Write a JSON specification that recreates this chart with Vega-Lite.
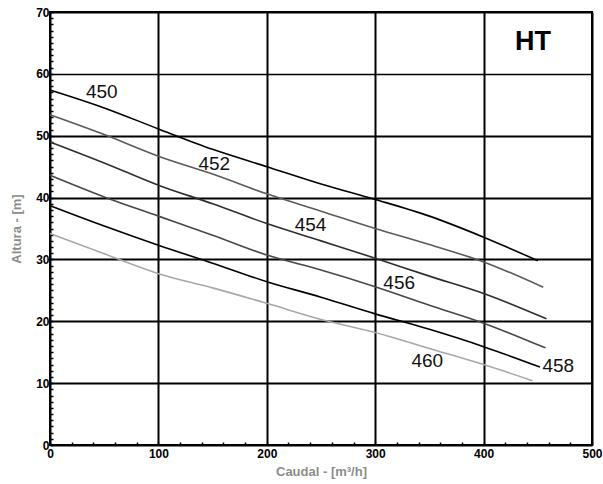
{
  "$schema": "https://vega.github.io/schema/vega-lite/v6.json",
  "width": 542,
  "height": 433,
  "autosize": {"type": "none"},
  "padding": {"left": 50, "top": 12, "right": 11, "bottom": 39},
  "background": "white",
  "config": {
    "view": {"stroke": "black", "strokeWidth": 2},
    "font": "Liberation Sans"
  },
  "datasets": {
    "curves": [
      {"curve": "450", "q": 0, "h": 57.4}, {"curve": "450", "q": 50, "h": 54.5}, {"curve": "450", "q": 100, "h": 51.1}, {"curve": "450", "q": 150, "h": 47.8}, {"curve": "450", "q": 200, "h": 45.0}, {"curve": "450", "q": 250, "h": 42.2}, {"curve": "450", "q": 300, "h": 39.7}, {"curve": "450", "q": 350, "h": 37.0}, {"curve": "450", "q": 400, "h": 33.6}, {"curve": "450", "q": 450, "h": 29.8},
      {"curve": "452", "q": 0, "h": 53.4}, {"curve": "452", "q": 50, "h": 50.2}, {"curve": "452", "q": 100, "h": 46.7}, {"curve": "452", "q": 150, "h": 43.8}, {"curve": "452", "q": 200, "h": 40.6}, {"curve": "452", "q": 250, "h": 37.8}, {"curve": "452", "q": 300, "h": 35.0}, {"curve": "452", "q": 350, "h": 32.4}, {"curve": "452", "q": 400, "h": 29.6}, {"curve": "452", "q": 455, "h": 25.5},
      {"curve": "454", "q": 0, "h": 49.0}, {"curve": "454", "q": 50, "h": 45.6}, {"curve": "454", "q": 100, "h": 42.0}, {"curve": "454", "q": 150, "h": 39.0}, {"curve": "454", "q": 200, "h": 35.8}, {"curve": "454", "q": 250, "h": 33.0}, {"curve": "454", "q": 300, "h": 30.2}, {"curve": "454", "q": 350, "h": 27.3}, {"curve": "454", "q": 400, "h": 24.5}, {"curve": "454", "q": 458, "h": 20.4},
      {"curve": "456", "q": 0, "h": 43.6}, {"curve": "456", "q": 50, "h": 40.1}, {"curve": "456", "q": 100, "h": 37.0}, {"curve": "456", "q": 150, "h": 33.9}, {"curve": "456", "q": 200, "h": 30.7}, {"curve": "456", "q": 250, "h": 28.3}, {"curve": "456", "q": 300, "h": 25.6}, {"curve": "456", "q": 350, "h": 22.6}, {"curve": "456", "q": 400, "h": 19.7}, {"curve": "456", "q": 457, "h": 15.7},
      {"curve": "458", "q": 0, "h": 38.7}, {"curve": "458", "q": 50, "h": 35.4}, {"curve": "458", "q": 100, "h": 32.3}, {"curve": "458", "q": 150, "h": 29.4}, {"curve": "458", "q": 200, "h": 26.4}, {"curve": "458", "q": 250, "h": 23.9}, {"curve": "458", "q": 300, "h": 21.2}, {"curve": "458", "q": 350, "h": 18.7}, {"curve": "458", "q": 400, "h": 15.9}, {"curve": "458", "q": 452, "h": 12.6},
      {"curve": "460", "q": 0, "h": 34.2}, {"curve": "460", "q": 50, "h": 30.9}, {"curve": "460", "q": 100, "h": 27.7}, {"curve": "460", "q": 150, "h": 25.4}, {"curve": "460", "q": 200, "h": 22.9}, {"curve": "460", "q": 250, "h": 20.3}, {"curve": "460", "q": 300, "h": 18.2}, {"curve": "460", "q": 350, "h": 15.6}, {"curve": "460", "q": 400, "h": 13.0}, {"curve": "460", "q": 445, "h": 10.4}
    ],
    "labels": [
      {"text": "450", "q": 47.8, "h": 57.1},
      {"text": "452", "q": 151.5, "h": 45.5},
      {"text": "454", "q": 240.3, "h": 35.6},
      {"text": "456", "q": 322.1, "h": 26.2},
      {"text": "460", "q": 348, "h": 13.5},
      {"text": "458", "q": 468.9, "h": 12.8}
    ],
    "tag": [
      {"text": "HT", "q": 445.6, "h": 65.1}
    ]
  },
  "encoding": {
    "x": {
      "field": "q", "type": "quantitative",
      "scale": {"domain": [0, 500], "nice": false, "zero": false},
      "axis": {
        "title": "Caudal - [m³/h]",
        "values": [0,20,40,60,80,100,120,140,160,180,200,220,240,260,280,300,320,340,360,380,400,420,440,460,480,500],
        "labelExpr": "datum.value % 100 === 0 ? datum.label : ''",
        "labelOverlap": false,
        "labelFlush": false,
        "labelFont": "Liberation Sans",
        "labelFontWeight": "bold",
        "labelFontSize": 12,
        "labelColor": "black",
        "labelPadding": 6,
        "tickSize": -3,
        "tickColor": "black",
        "tickWidth": 1.5,
        "domain": false,
        "grid": true,
        "gridColor": "black",
        "gridWidth": 2,
        "gridOpacity": {"condition": {"test": "datum.value % 100 === 0", "value": 1}, "value": 0},
        "titleFont": "Liberation Sans",
        "titleFontWeight": "bold",
        "titleFontSize": 13,
        "titleColor": "#8c8c8c",
        "titlePadding": 6
      }
    },
    "y": {
      "field": "h", "type": "quantitative",
      "scale": {"domain": [0, 70], "nice": false, "zero": false},
      "axis": {
        "title": "Altura - [m]",
        "values": [0,1,2,3,4,5,6,7,8,9,10,11,12,13,14,15,16,17,18,19,20,21,22,23,24,25,26,27,28,29,30,31,32,33,34,35,36,37,38,39,40,41,42,43,44,45,46,47,48,49,50,51,52,53,54,55,56,57,58,59,60,61,62,63,64,65,66,67,68,69,70],
        "labelExpr": "datum.value % 10 === 0 ? datum.label : ''",
        "labelOverlap": false,
        "labelFlush": false,
        "labelFont": "Liberation Sans",
        "labelFontWeight": "bold",
        "labelFontSize": 12,
        "labelColor": "black",
        "labelPadding": 4,
        "tickSize": -3,
        "tickColor": "black",
        "tickWidth": 1.5,
        "domain": false,
        "grid": true,
        "gridColor": "black",
        "gridWidth": {"condition": {"test": "datum.value === 60", "value": 1.3}, "value": 2},
        "gridOpacity": {"condition": {"test": "datum.value % 10 === 0", "value": 1}, "value": 0},
        "titleFont": "Liberation Sans",
        "titleFontWeight": "bold",
        "titleFontSize": 13,
        "titleColor": "#8c8c8c",
        "titlePadding": 12
      }
    }
  },
  "layer": [
    {
      "data": {"name": "curves"},
      "mark": {"type": "line", "interpolate": "monotone", "strokeWidth": 1.6},
      "encoding": {
        "detail": {"field": "curve"},
        "color": {
          "field": "curve", "type": "nominal", "legend": null,
          "scale": {"domain": ["450", "452", "454", "456", "458", "460"], "range": ["#000000", "#5a5a5a", "#2e2e2e", "#474747", "#000000", "#a8a8a8"]}
        }
      }
    },
    {
      "data": {"name": "labels"},
      "mark": {"type": "text", "font": "Liberation Sans", "fontSize": 19, "align": "center", "baseline": "middle", "color": "#111"},
      "encoding": {"text": {"field": "text"}}
    },
    {
      "data": {"name": "tag"},
      "mark": {"type": "text", "font": "Liberation Sans", "fontSize": 27, "fontWeight": "bold", "align": "center", "baseline": "middle", "color": "black"},
      "encoding": {"text": {"field": "text"}}
    }
  ]
}
